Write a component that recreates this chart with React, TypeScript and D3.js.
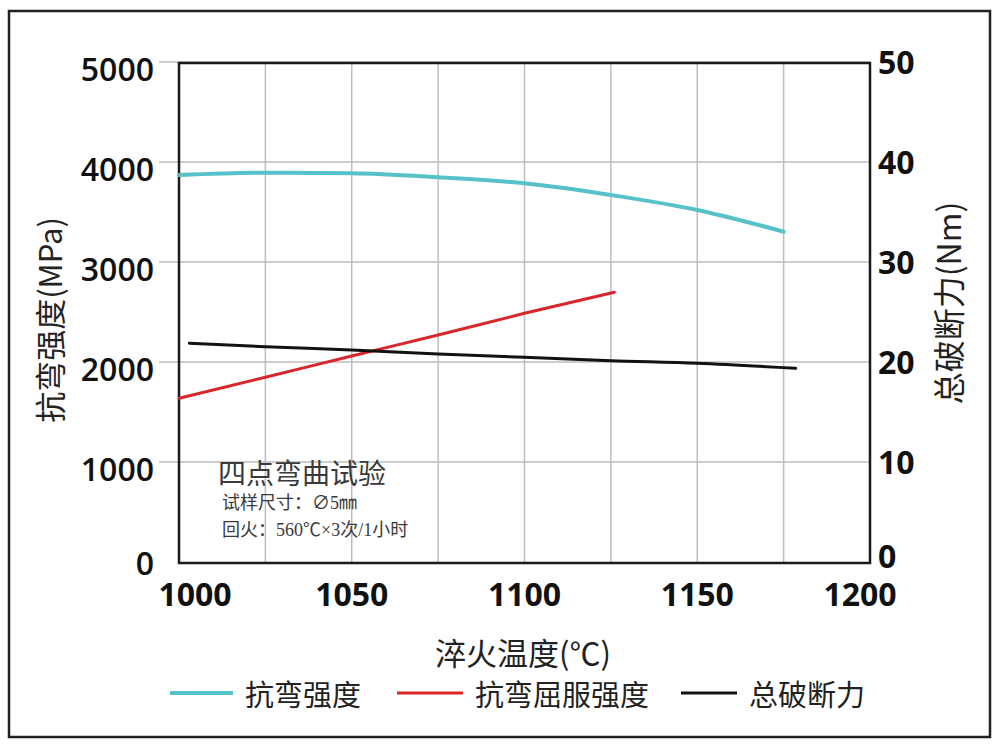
import React from 'react';
import * as d3 from 'd3';

// quench temperature (°C) for each series
const bendTemps = [1000, 1025, 1050, 1075, 1100, 1125, 1150, 1175];
const bendStrength = [3870, 3893, 3887, 3847, 3787, 3670, 3520, 3303]; // MPa

const yieldTemps = [1000, 1025, 1050, 1075, 1100, 1126];
const yieldStrength = [1637, 1847, 2060, 2270, 2487, 2697]; // MPa

const breakTemps = [1003, 1025, 1050, 1075, 1100, 1125, 1150, 1178.5];
const breakForce = [21.87, 21.53, 21.2, 20.8, 20.47, 20.13, 19.87, 19.37]; // Nm

const xTicks = [1000, 1050, 1100, 1150, 1200];
const xGrid = [1025, 1050, 1075, 1100, 1125, 1150, 1175];
const leftTicks = [0, 1000, 2000, 3000, 4000, 5000];
const rightTicks = [0, 10, 20, 30, 40, 50];

const legendItems = [
  { label: '抗弯强度', color: '#56c1c9' },
  { label: '抗弯屈服强度', color: '#d8262a' },
  { label: '总破断力', color: '#111111' },
];

const NUM_FONT = '"Open Sans", "DejaVu Sans", sans-serif';
const CJK_FONT = '"Noto Sans CJK SC", "Noto Sans", sans-serif';

const App: React.FC = () => {
  const x = d3.scaleLinear().domain([1000, 1200]).range([179, 870]);
  const yL = d3.scaleLinear().domain([0, 5000]).range([562, 62]);
  const yR = d3.scaleLinear().domain([0, 50]).range([562, 62]);

  const line = (xs: number[], ys: number[], y: d3.ScaleLinear<number, number>) =>
    d3
      .line<number>()
      .x((d) => x(d))
      .y((_, i) => y(ys[i]))
      .curve(d3.curveMonotoneX)(xs) || '';

  // legend segments laid out left to right
  const legendX = [170, 397, 681];
  const legendLen = [63, 66, 56];

  return (
    <svg
      width={1001}
      height={754}
      style={{ position: 'absolute', left: 0, top: 0, background: '#fff' }}
    >
      <rect x={0} y={0} width={1001} height={754} fill="#fff" />
      {/* outer frame */}
      <rect x={9} y={11} width={981} height={726} fill="none" stroke="#222" strokeWidth={2.5} />

      {/* grid */}
      {xGrid.map((t) => (
        <line key={'vx' + t} x1={x(t)} x2={x(t)} y1={yL(5000)} y2={yL(0)} stroke="#bdbdbd" strokeWidth={1.5} />
      ))}
      {leftTicks.filter((t) => t > 0).map((t) => (
        <line key={'hy' + t} x1={159} x2={x(1200)} y1={yL(t)} y2={yL(t)} stroke="#bdbdbd" strokeWidth={1.5} />
      ))}

      {/* plot frame */}
      <rect
        x={x(1000)}
        y={yL(5000) + 1}
        width={x(1200) - x(1000)}
        height={yL(0) - yL(5000)}
        fill="none"
        stroke="#1a1a1a"
        strokeWidth={2.5}
      />

      {/* series */}
      <path d={line(bendTemps, bendStrength, yL)} fill="none" stroke="#56c1c9" strokeWidth={4} strokeLinecap="round" />
      <path d={line(yieldTemps, yieldStrength, yL)} fill="none" stroke="#d8262a" strokeWidth={3} strokeLinecap="round" />
      <path d={line(breakTemps, breakForce, yR)} fill="none" stroke="#111" strokeWidth={3} strokeLinecap="round" />

      {/* left axis labels */}
      {leftTicks.map((t) => (
        <text
          key={'l' + t}
          x={154}
          y={yL(t) + (t === 0 ? 0 : 6)}
          textAnchor="end"
          dominantBaseline="central"
          fontFamily={NUM_FONT}
          fontSize={32}
          fontWeight={600}
          fill="#111"
        >
          {t}
        </text>
      ))}
      {/* right axis labels */}
      {rightTicks.map((t) => (
        <text
          key={'r' + t}
          x={878}
          y={yR(t) - (t === 0 ? 7 : 1)}
          textAnchor="start"
          dominantBaseline="central"
          fontFamily={NUM_FONT}
          fontSize={32}
          fontWeight={700}
          fill="#111"
        >
          {t}
        </text>
      ))}
      {/* bottom axis labels */}
      {xTicks.map((t) => (
        <text
          key={'b' + t}
          x={x(t) + (t === 1000 ? 16 : t === 1200 ? -10 : 0)}
          y={606}
          textAnchor="middle"
          fontFamily={NUM_FONT}
          fontSize={32}
          fontWeight={700}
          fill="#111"
        >
          {t}
        </text>
      ))}

      {/* axis titles */}
      <text
        transform="translate(48,320) rotate(-90)"
        textAnchor="middle"
        dominantBaseline="central"
        fontFamily={CJK_FONT}
        fontSize={31}
        fill="#222"
      >
        抗弯强度(MPa)
      </text>
      <text
        transform="translate(947,303) rotate(-90)"
        textAnchor="middle"
        dominantBaseline="central"
        fontFamily={CJK_FONT}
        fontSize={32}
        fill="#222"
      >
        总破断力(Nm)
      </text>
      <text
        x={523}
        y={651}
        textAnchor="middle"
        dominantBaseline="central"
        fontFamily={CJK_FONT}
        fontSize={31}
        fill="#222"
      >
        淬火温度(℃)
      </text>

      {/* note */}
      <g fontFamily={'"Liberation Serif", "Noto Sans CJK SC", serif'} fill="#3a3a3a">
        <text x={218} y={474} dominantBaseline="central" fontSize={28}>
          四点弯曲试验
        </text>
        <text x={222} y={503} dominantBaseline="central" fontSize={18}>
          试样尺寸：∅5㎜
        </text>
        <text x={222} y={530} dominantBaseline="central" fontSize={18}>
          回火：560℃×3次/1小时
        </text>
      </g>

      {/* legend */}
      {legendItems.map((item, i) => (
        <g key={item.label}>
          <line
            x1={legendX[i]}
            x2={legendX[i] + legendLen[i]}
            y1={693}
            y2={693}
            stroke={item.color}
            strokeWidth={item.color === '#56c1c9' ? 4 : 3}
          />
          <text
            x={legendX[i] + legendLen[i] + 12}
            y={693}
            dominantBaseline="central"
            fontFamily={CJK_FONT}
            fontSize={29}
            fill="#222"
          >
            {item.label}
          </text>
        </g>
      ))}
    </svg>
  );
};

export default App;
